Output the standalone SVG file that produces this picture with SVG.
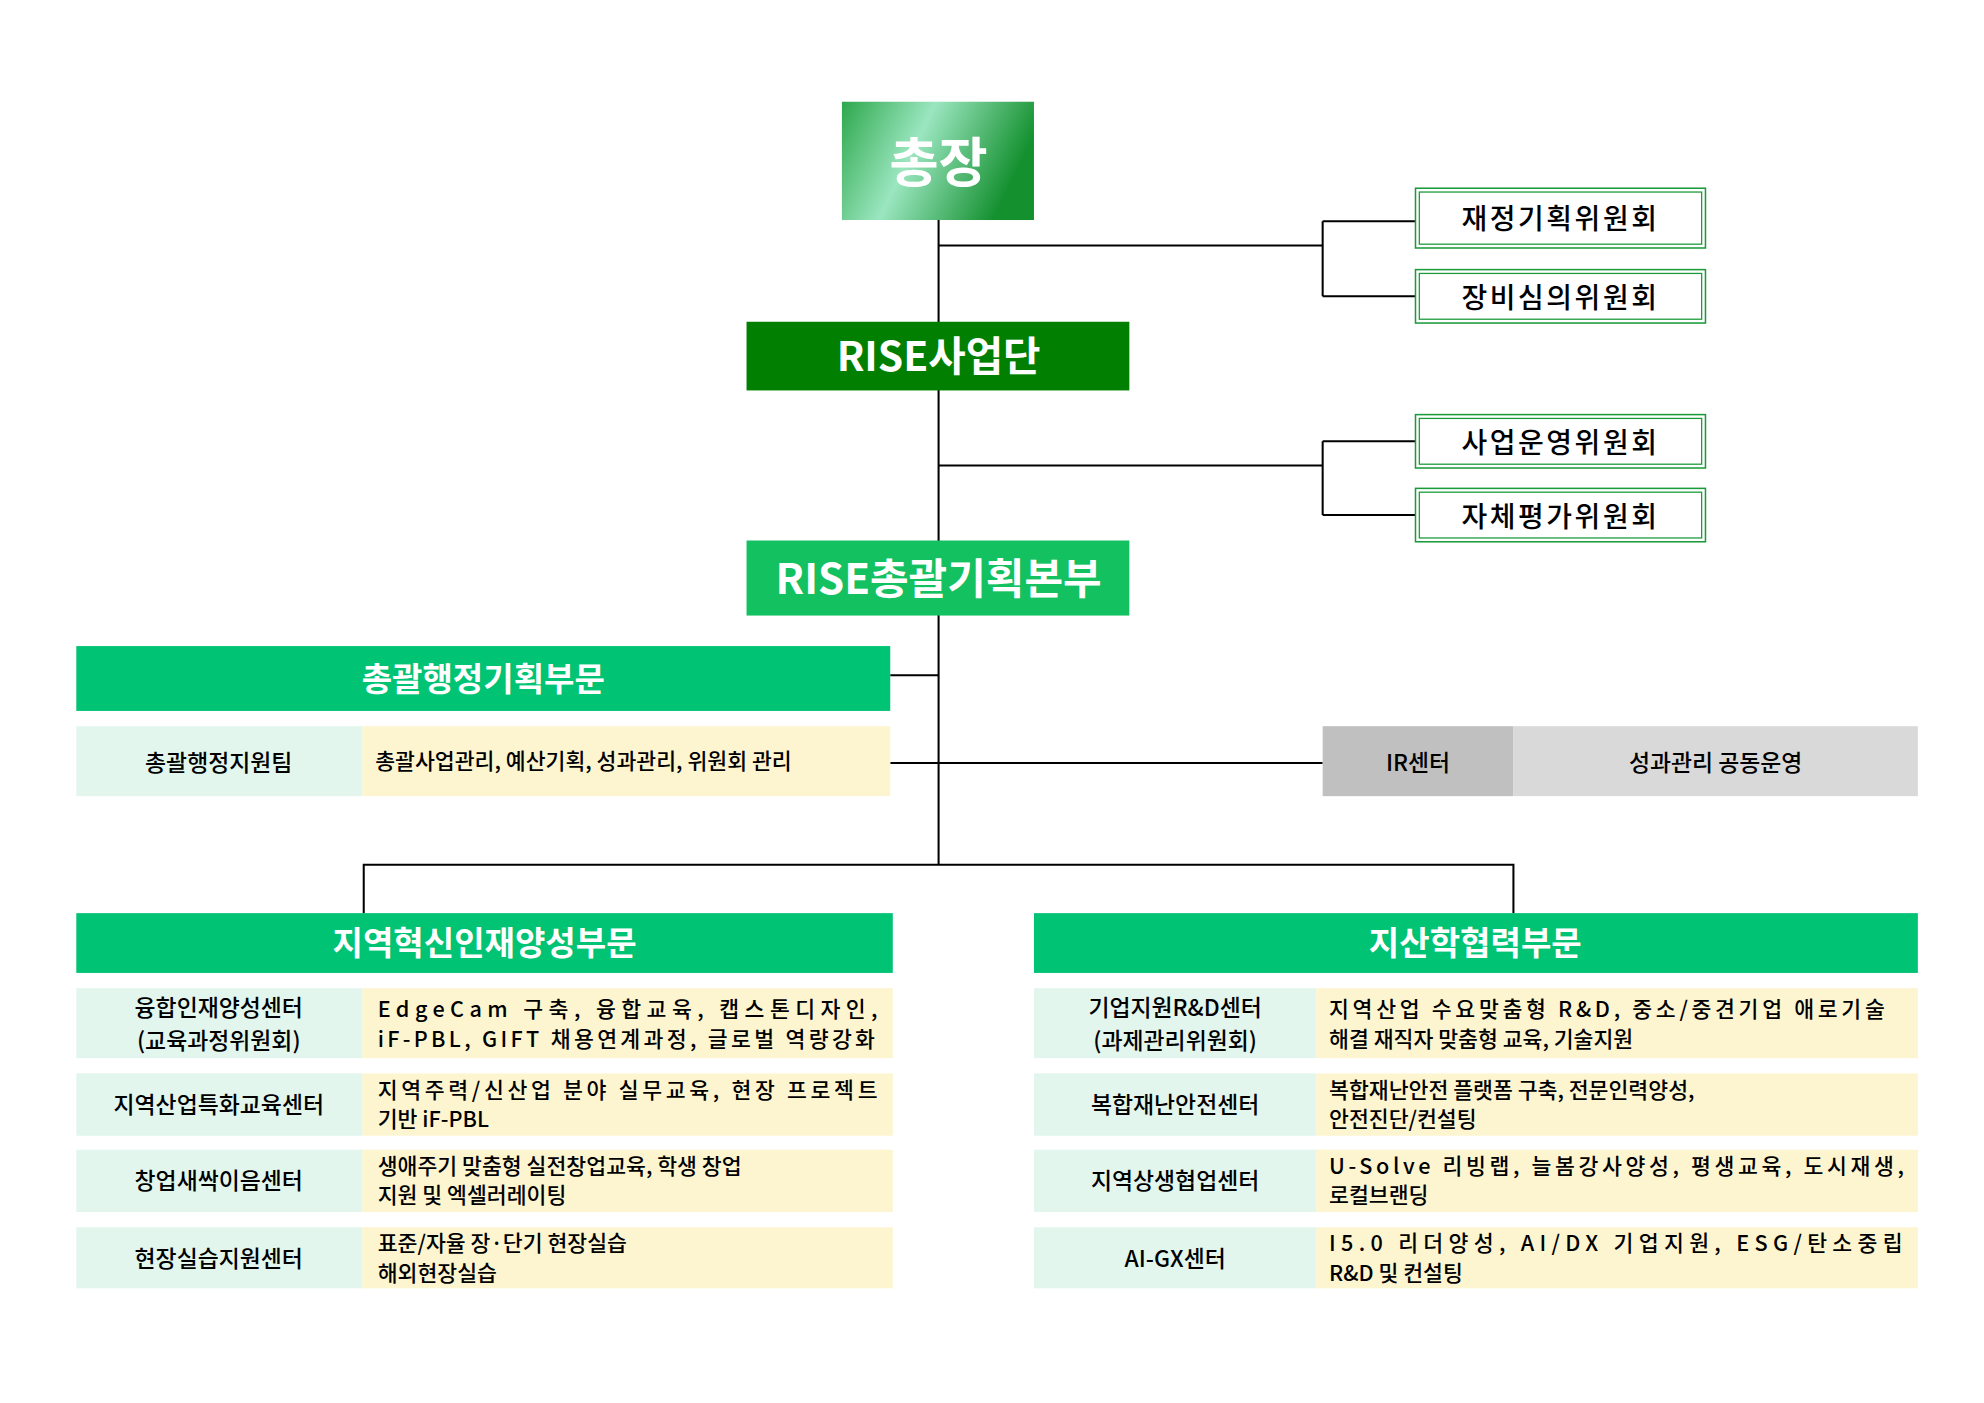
<svg xmlns="http://www.w3.org/2000/svg" width="1984" height="1403" viewBox="0 0 1984 1403">
<style>
text{font-family:"Noto Sans CJK KR","Noto Sans",sans-serif}
.w{fill:#fff;font-weight:700;text-anchor:middle}
.c{fill:#000;font-size:22px;font-weight:500;text-anchor:middle;letter-spacing:2px}
.l{fill:#000;font-size:18px;font-weight:500;text-anchor:middle}
.d{fill:#000;font-size:17px;font-weight:500}
.ln{stroke:#000;stroke-width:1.6;fill:none}
.cm{fill:#fff;stroke:#1a9a3a;stroke-width:1.2}
.lab{fill:#e2f6ee}.des{fill:#fdf5d0}.hd{fill:#00c373}
</style>
<defs>
<linearGradient id="g" x1="0" y1="0" x2="1" y2="0.3">
<stop offset="0" stop-color="#2ea84c"/><stop offset="0.45" stop-color="#9be6c0"/><stop offset="1" stop-color="#14902f"/>
</linearGradient>
</defs>
<rect width="1984" height="1403" fill="#fff"/>
<g transform="scale(1.27179)">
<g id="connectors">
<path class="ln" d="M738 173V680M738 193H1040M1040 174V233M1040 174H1113M1040 233H1113M738 366H1040M1040 347V405M1040 347H1113M1040 405H1113M700 531H738M700 600H1040M286 718V680H1190V718"/>
</g>
<g id="president"><rect x="662" y="80" width="151" height="93" fill="url(#g)"/><text class="w" x="738" y="143" font-size="42">총장</text></g>
<g id="c1"><rect class="cm" x="1113" y="148" width="228" height="47"/><rect x="1116" y="151" width="222" height="41" fill="none" stroke="#1a9a3a" stroke-width="1"/><text class="c" x="1227" y="180">재정기획위원회</text></g>
<g id="c2"><rect class="cm" x="1113" y="212" width="228" height="42"/><rect x="1116" y="215" width="222" height="36" fill="none" stroke="#1a9a3a" stroke-width="1"/><text class="c" x="1227" y="242">장비심의위원회</text></g>
<g id="rise"><rect x="587" y="253" width="301" height="54" fill="#007f00"/><text class="w" x="738" y="292" font-size="32">RISE사업단</text></g>
<g id="c3"><rect class="cm" x="1113" y="326" width="228" height="42"/><rect x="1116" y="329" width="222" height="36" fill="none" stroke="#1a9a3a" stroke-width="1"/><text class="c" x="1227" y="356">사업운영위원회</text></g>
<g id="c4"><rect class="cm" x="1113" y="384" width="228" height="42"/><rect x="1116" y="387" width="222" height="36" fill="none" stroke="#1a9a3a" stroke-width="1"/><text class="c" x="1227" y="414">자체평가위원회</text></g>
<g id="hq"><rect x="587" y="425" width="301" height="59" fill="#13c160"/><text class="w" x="738" y="467" font-size="33">RISE총괄기획본부</text></g>
<g id="admin"><rect class="hd" x="60" y="508" width="640" height="51"/><text class="w" x="380" y="543" font-size="26">총괄행정기획부문</text></g>
<g id="adminteam"><rect class="lab" x="60" y="571" width="225" height="55"/><rect class="des" x="285" y="571" width="415" height="55"/><text class="l" x="172" y="606">총괄행정지원팀</text><text class="d" x="295" y="605" font-size="16">총괄사업관리, 예산기획, 성과관리, 위원회 관리</text></g>
<g id="ir"><rect x="1040" y="571" width="150" height="55" fill="#c0c0c0"/><rect x="1190" y="571" width="318" height="55" fill="#d9d9d9"/><text class="l" x="1115" y="606">IR센터</text><text class="l" x="1349" y="606">성과관리 공동운영</text></g>
<g id="left"><rect class="hd" x="60" y="718" width="642" height="47"/><text class="w" x="381" y="751" font-size="26">지역혁신인재양성부문</text></g>
<g id="right"><rect class="hd" x="813" y="718" width="695" height="47"/><text class="w" x="1160" y="751" font-size="26">지산학협력부문</text></g>
<g id="l1"><rect class="lab" x="60" y="777" width="225" height="55"/><rect class="des" x="285" y="777" width="417" height="55"/><text class="l" x="172" y="799">융합인재양성센터</text><text class="l" x="172" y="825">(교육과정위원회)</text><text class="d" x="297" y="800" textLength="393">EdgeCam 구축, 융합교육, 캡스톤디자인,</text><text class="d" x="297" y="823" textLength="391">iF-PBL, GIFT 채용연계과정, 글로벌 역량강화</text></g>
<g id="l2"><rect class="lab" x="60" y="844" width="225" height="49"/><rect class="des" x="285" y="844" width="417" height="49"/><text class="l" x="172" y="875">지역산업특화교육센터</text><text class="d" x="297" y="863" textLength="393">지역주력/신산업 분야 실무교육, 현장 프로젝트</text><text class="d" x="297" y="886">기반 iF-PBL</text></g>
<g id="l3"><rect class="lab" x="60" y="904" width="225" height="49"/><rect class="des" x="285" y="904" width="417" height="49"/><text class="l" x="172" y="935">창업새싹이음센터</text><text class="d" x="297" y="923">생애주기 맞춤형 실전창업교육, 학생 창업</text><text class="d" x="297" y="946">지원 및 엑셀러레이팅</text></g>
<g id="l4"><rect class="lab" x="60" y="965" width="225" height="48"/><rect class="des" x="285" y="965" width="417" height="48"/><text class="l" x="172" y="996">현장실습지원센터</text><text class="d" x="297" y="984">표준/자율 장·단기 현장실습</text><text class="d" x="297" y="1007">해외현장실습</text></g>
<g id="r1"><rect class="lab" x="813" y="777" width="222" height="55"/><rect class="des" x="1035" y="777" width="473" height="55"/><text class="l" x="924" y="799">기업지원R&amp;D센터</text><text class="l" x="924" y="825">(과제관리위원회)</text><text class="d" x="1045" y="800" textLength="437">지역산업 수요맞춤형 R&amp;D, 중소/중견기업 애로기술</text><text class="d" x="1045" y="823">해결 재직자 맞춤형 교육, 기술지원</text></g>
<g id="r2"><rect class="lab" x="813" y="844" width="222" height="49"/><rect class="des" x="1035" y="844" width="473" height="49"/><text class="l" x="924" y="875">복합재난안전센터</text><text class="d" x="1045" y="863">복합재난안전 플랫폼 구축, 전문인력양성,</text><text class="d" x="1045" y="886">안전진단/컨설팅</text></g>
<g id="r3"><rect class="lab" x="813" y="904" width="222" height="49"/><rect class="des" x="1035" y="904" width="473" height="49"/><text class="l" x="924" y="935">지역상생협업센터</text><text class="d" x="1045" y="923" textLength="452">U-Solve 리빙랩, 늘봄강사양성, 평생교육, 도시재생,</text><text class="d" x="1045" y="946">로컬브랜딩</text></g>
<g id="r4"><rect class="lab" x="813" y="965" width="222" height="48"/><rect class="des" x="1035" y="965" width="473" height="48"/><text class="l" x="924" y="996">AI-GX센터</text><text class="d" x="1045" y="984" textLength="451">I5.0 리더양성, AI/DX 기업지원, ESG/탄소중립</text><text class="d" x="1045" y="1007">R&amp;D 및 컨설팅</text></g>
</g>
</svg>
